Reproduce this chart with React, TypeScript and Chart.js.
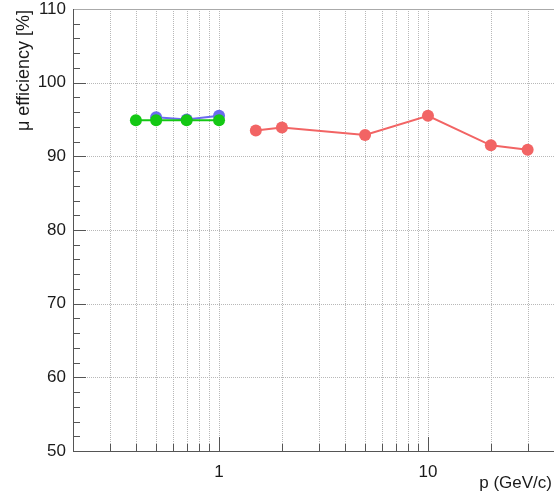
import React, { useEffect, useRef } from "react";
import { Chart, registerables } from "chart.js";

Chart.register(...registerables);

// ---- data ----
const redP = [1.5, 2, 5, 10, 20, 30];
const redEff = [93.5, 93.9, 92.9, 95.5, 91.5, 90.9];
const blueP = [0.5, 0.7, 1.0];
const blueEff = [95.3, 95.0, 95.5];
const greenP = [0.4, 0.5, 0.7, 1.0];
const greenEff = [94.9, 94.9, 94.9, 94.9];

const xTickValues = [
  0.2, 0.3, 0.4, 0.5, 0.6, 0.7, 0.8, 0.9, 1, 2, 3, 4, 5, 6, 7, 8, 9, 10, 20, 30, 40, 50,
];
const xLabeledTicks = [1, 10];
const yMajorTicks = [50, 60, 70, 80, 90, 100, 110];
const yMinorTicks = [
  52, 54, 56, 58, 62, 64, 66, 68, 72, 74, 76, 78, 82, 84, 86, 88, 92, 94, 96, 98, 102, 104, 106, 108,
];
const xMin = 0.2;
const xMax = 50;
const yMin = 50;
const yMax = 110;
const xTitle = "p (GeV/c)";
const yTitle = "\u03bc efficiency [%]";

const FONT = "'Liberation Sans', Arial, Helvetica, sans-serif";

const pts = (xs: number[], ys: number[]) => xs.map((x, i) => ({ x, y: ys[i] }));

const rootFrame = {
  id: "rootFrame",
  beforeDatasetsDraw(chart: any) {
    const { ctx, chartArea, scales } = chart;
    const { left, right, top, bottom } = chartArea;
    const xs = scales.x;
    const ys = scales.y;
    ctx.save();
    // dotted grid
    ctx.strokeStyle = "#b8b8b8";
    ctx.lineWidth = 1;
    ctx.setLineDash([1, 1]);
    for (const v of xTickValues) {
      if (v <= xMin) continue;
      const px = Math.round(xs.getPixelForValue(v)) + 0.5;
      ctx.beginPath();
      ctx.moveTo(px, top);
      ctx.lineTo(px, bottom);
      ctx.stroke();
    }
    for (const v of yMajorTicks) {
      if (v <= yMin || v >= yMax) continue;
      const py = Math.round(ys.getPixelForValue(v)) + 0.5;
      ctx.beginPath();
      ctx.moveTo(left, py);
      ctx.lineTo(right, py);
      ctx.stroke();
    }
    ctx.setLineDash([]);
    // tick marks (inside)
    ctx.strokeStyle = "#555";
    for (const v of xTickValues) {
      if (v <= xMin) continue;
      const len = xLabeledTicks.includes(v) ? 14 : 7;
      const px = Math.round(xs.getPixelForValue(v)) + 0.5;
      ctx.beginPath();
      ctx.moveTo(px, bottom);
      ctx.lineTo(px, bottom - len);
      ctx.stroke();
    }
    const yTickDraw = (v: number, len: number) => {
      const py = Math.round(ys.getPixelForValue(v)) + 0.5;
      ctx.beginPath();
      ctx.moveTo(left, py);
      ctx.lineTo(left + len, py);
      ctx.stroke();
    };
    yMajorTicks.forEach((v) => yTickDraw(v, 13));
    yMinorTicks.forEach((v) => yTickDraw(v, 7));
    // frame
    ctx.strokeStyle = "#aaaaaa";
    ctx.beginPath();
    ctx.moveTo(left, Math.round(top) + 0.5);
    ctx.lineTo(right, Math.round(top) + 0.5);
    ctx.stroke();
    ctx.strokeStyle = "#555";
    ctx.beginPath();
    ctx.moveTo(Math.round(left) + 0.5, top);
    ctx.lineTo(Math.round(left) + 0.5, bottom);
    ctx.moveTo(left, Math.round(bottom) + 0.5);
    ctx.lineTo(right, Math.round(bottom) + 0.5);
    ctx.stroke();
    ctx.restore();
  },
  afterDraw(chart: any) {
    const { ctx } = chart;
    ctx.save();
    ctx.fillStyle = "#1a1a1a";
    ctx.font = `17px ${FONT}`;
    ctx.textAlign = "right";
    ctx.textBaseline = "alphabetic";
    ctx.fillText(xTitle, 552, 488);
    ctx.font = `18px ${FONT}`;
    ctx.translate(29, 10);
    ctx.rotate(-Math.PI / 2);
    ctx.textAlign = "right";
    ctx.textBaseline = "alphabetic";
    ctx.fillText(yTitle, 0, 0);
    ctx.restore();
  },
};

export default function App() {
  const ref = useRef<HTMLCanvasElement | null>(null);
  useEffect(() => {
    if (!ref.current) return;
    const mk = (label: string, xs: number[], ys: number[], color: string) => ({
      label,
      data: pts(xs, ys),
      borderColor: color,
      backgroundColor: color,
      pointBackgroundColor: color,
      pointBorderColor: color,
      pointRadius: 6,
      pointBorderWidth: 0,
      borderWidth: 2,
      showLine: true,
      tension: 0,
    });
    const chart = new Chart(ref.current, {
      type: "scatter",
      data: {
        datasets: [
          mk("green", greenP, greenEff, "#14c814"),
          mk("blue", blueP, blueEff, "#6b6bef"),
          mk("red", redP, redEff, "#f26464"),
        ],
      },
      options: {
        responsive: false,
        animation: false,
        devicePixelRatio: 1,
        layout: { padding: { top: 9, right: 26, left: 0, bottom: 0 } },
        plugins: { legend: { display: false }, tooltip: { enabled: false } },
        scales: {
          x: {
            type: "logarithmic",
            min: xMin,
            max: xMax,
            afterBuildTicks: (s: any) => {
              s.ticks = xTickValues.map((v) => ({ value: v }));
            },
            afterFit: (s: any) => {
              s.height = 40;
              s.paddingLeft = 0;
              s.paddingRight = 0;
            },
            grid: { display: false, drawTicks: false },
            border: { display: false },
            ticks: {
              autoSkip: false,
              maxRotation: 0,
              minRotation: 0,
              padding: 11,
              color: "#1a1a1a",
              font: { family: FONT, size: 17 },
              callback: (v: any) => (xLabeledTicks.includes(Number(v)) ? String(v) : ""),
            },
          },
          y: {
            type: "linear",
            min: yMin,
            max: yMax,
            afterFit: (s: any) => {
              s.width = 73;
              s.paddingTop = 0;
              s.paddingBottom = 0;
            },
            grid: { display: false, drawTicks: false },
            border: { display: false },
            ticks: {
              stepSize: 10,
              padding: 7,
              color: "#1a1a1a",
              font: { family: FONT, size: 17 },
            },
          },
        },
      },
      plugins: [rootFrame],
    });
    return () => chart.destroy();
  }, []);
  return (
    <div
      style={{
        position: "absolute",
        left: 0,
        top: 0,
        width: 554,
        height: 491,
        overflow: "hidden",
        background: "#fff",
      }}
    >
      <canvas ref={ref} width={600} height={491} style={{ display: "block" }} />
    </div>
  );
}
